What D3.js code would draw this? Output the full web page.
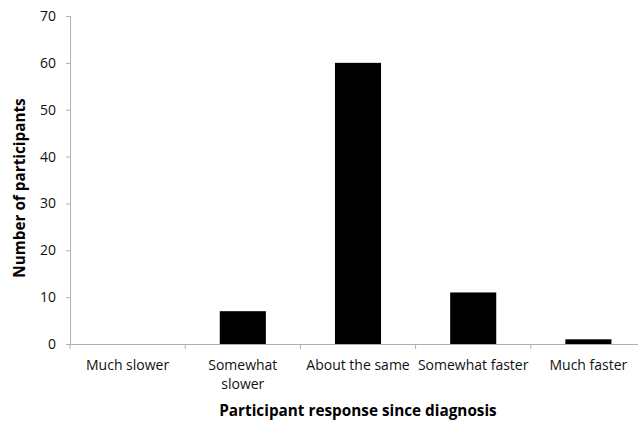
<!DOCTYPE html>
<html><head><meta charset="utf-8">
<script src="https://cdn.jsdelivr.net/npm/d3@7"></script>
<style>body{margin:0;background:#fff;} svg{display:block;font-family:"Open Sans",sans-serif;}</style>
</head><body>
<svg id="c" width="638" height="422"></svg>
<script>
const categories = ["Much slower", "Somewhat slower", "About the same", "Somewhat faster", "Much faster"];
const values = [0, 7, 60, 11, 1];
const yTicks = [0, 10, 20, 30, 40, 50, 60, 70];
const xTitle = "Participant response since diagnosis";
const yTitle = "Number of participants";

const svg = d3.select("#c");
const mLeft = 70, mRight = 646, mTop = 16, mBottom = 344;
const x = d3.scaleBand().domain(categories).range([mLeft, mRight]).paddingInner(0).paddingOuter(0);
const y = d3.scaleLinear().domain([0, 70]).range([mBottom, mTop]);
const axisColor = "#b0b0b0";

// y axis
const ya = svg.append("g").attr("transform", `translate(${mLeft},0)`)
  .call(d3.axisLeft(y).tickValues(yTicks).tickSize(4).tickPadding(10).tickFormat(d3.format("d")));
ya.select(".domain").attr("stroke", axisColor);
ya.selectAll(".tick line").attr("stroke", axisColor);
ya.selectAll(".tick text").attr("font-size", 14).attr("fill", "#111").attr("font-family", "Open Sans");

// bars
svg.append("g").selectAll("rect").data(values).join("rect")
  .attr("x", (d, i) => x(categories[i]) + x.bandwidth() * 0.3)
  .attr("width", x.bandwidth() * 0.4)
  .attr("y", d => y(d))
  .attr("height", d => y(0) - y(d))
  .attr("fill", "#000");

// x axis
const xa = svg.append("g").attr("transform", `translate(0,${mBottom})`)
  .call(d3.axisBottom(x).tickSize(0).tickFormat(""));
xa.select(".domain").attr("stroke", axisColor);
// boundary ticks
const bounds = d3.range(categories.length + 1).map(i => mLeft + i * x.step());
svg.append("g").selectAll("line").data(bounds).join("line")
  .attr("x1", d => d).attr("x2", d => d)
  .attr("y1", mBottom).attr("y2", mBottom + 5)
  .attr("stroke", axisColor);

// category labels
const wraps = {"Somewhat slower": ["Somewhat", "slower"]};
categories.forEach(c => {
  const lines = wraps[c] || [c];
  const t = svg.append("text").attr("x", x(c) + x.bandwidth() / 2).attr("y", 370)
    .attr("text-anchor", "middle").attr("font-size", 14).attr("fill", "#111");
  lines.forEach((l, i) => t.append("tspan").attr("x", x(c) + x.bandwidth() / 2).attr("dy", i ? 19 : 0).text(l));
});

// titles
svg.append("text").attr("x", 358).attr("y", 416).attr("text-anchor", "middle")
  .attr("font-size", 15.3).attr("font-weight", "bold").attr("fill", "#000").text(xTitle);
svg.append("text").attr("transform", "translate(25,188) rotate(-90)").attr("text-anchor", "middle")
  .attr("font-size", 15.3).attr("font-weight", "bold").attr("fill", "#000").text(yTitle);
</script>
</body></html>
